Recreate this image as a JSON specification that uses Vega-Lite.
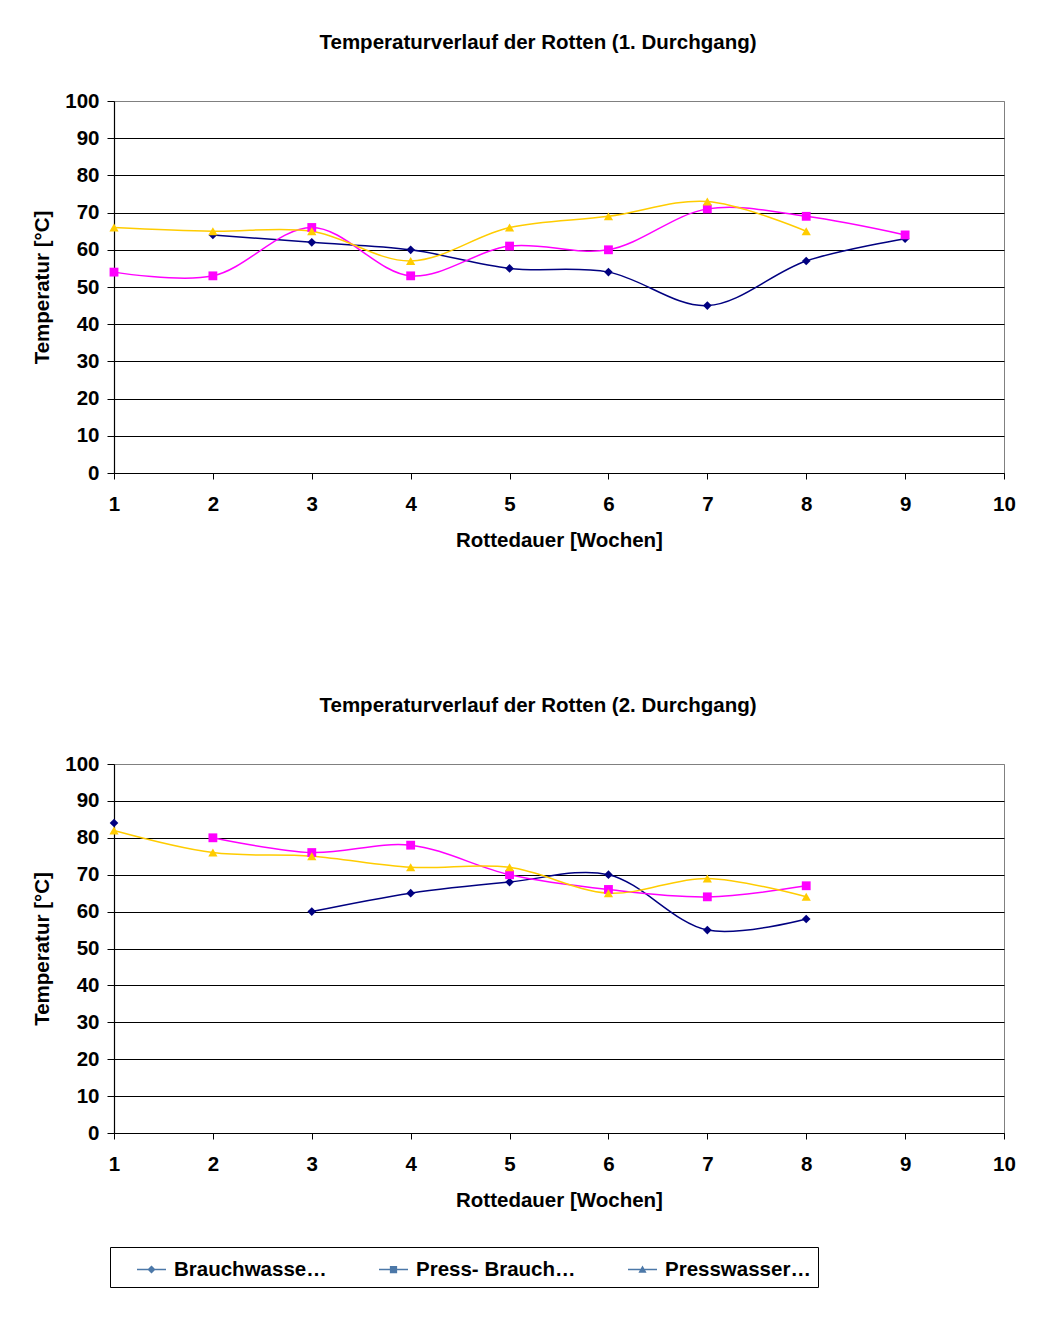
{
  "$schema": "https://vega.github.io/schema/vega-lite/v6.json",
  "background": "white",
  "padding": {"left": 32, "top": 32, "right": 40, "bottom": 40},
  "datasets": {
    "temps": [
      {"p": 1, "w": 2, "s": "Brauchwassermiete", "t": 64},
      {"p": 1, "w": 3, "s": "Brauchwassermiete", "t": 62},
      {"p": 1, "w": 4, "s": "Brauchwassermiete", "t": 60},
      {"p": 1, "w": 5, "s": "Brauchwassermiete", "t": 55},
      {"p": 1, "w": 6, "s": "Brauchwassermiete", "t": 54},
      {"p": 1, "w": 7, "s": "Brauchwassermiete", "t": 45},
      {"p": 1, "w": 8, "s": "Brauchwassermiete", "t": 57},
      {"p": 1, "w": 9, "s": "Brauchwassermiete", "t": 63},
      {"p": 1, "w": 1, "s": "Press- Brauchwassermiete", "t": 54},
      {"p": 1, "w": 2, "s": "Press- Brauchwassermiete", "t": 53},
      {"p": 1, "w": 3, "s": "Press- Brauchwassermiete", "t": 66},
      {"p": 1, "w": 4, "s": "Press- Brauchwassermiete", "t": 53},
      {"p": 1, "w": 5, "s": "Press- Brauchwassermiete", "t": 61},
      {"p": 1, "w": 6, "s": "Press- Brauchwassermiete", "t": 60},
      {"p": 1, "w": 7, "s": "Press- Brauchwassermiete", "t": 71},
      {"p": 1, "w": 8, "s": "Press- Brauchwassermiete", "t": 69},
      {"p": 1, "w": 9, "s": "Press- Brauchwassermiete", "t": 64},
      {"p": 1, "w": 1, "s": "Presswassermiete", "t": 66},
      {"p": 1, "w": 2, "s": "Presswassermiete", "t": 65},
      {"p": 1, "w": 3, "s": "Presswassermiete", "t": 65},
      {"p": 1, "w": 4, "s": "Presswassermiete", "t": 57},
      {"p": 1, "w": 5, "s": "Presswassermiete", "t": 66},
      {"p": 1, "w": 6, "s": "Presswassermiete", "t": 69},
      {"p": 1, "w": 7, "s": "Presswassermiete", "t": 73},
      {"p": 1, "w": 8, "s": "Presswassermiete", "t": 65},
      {"p": 2, "w": 1, "s": "Brauchwassermiete", "t": 84},
      {"p": 2, "w": 2, "s": "Brauchwassermiete", "t": null},
      {"p": 2, "w": 3, "s": "Brauchwassermiete", "t": 60},
      {"p": 2, "w": 4, "s": "Brauchwassermiete", "t": 65},
      {"p": 2, "w": 5, "s": "Brauchwassermiete", "t": 68},
      {"p": 2, "w": 6, "s": "Brauchwassermiete", "t": 70},
      {"p": 2, "w": 7, "s": "Brauchwassermiete", "t": 55},
      {"p": 2, "w": 8, "s": "Brauchwassermiete", "t": 58},
      {"p": 2, "w": 2, "s": "Press- Brauchwassermiete", "t": 80},
      {"p": 2, "w": 3, "s": "Press- Brauchwassermiete", "t": 76},
      {"p": 2, "w": 4, "s": "Press- Brauchwassermiete", "t": 78},
      {"p": 2, "w": 5, "s": "Press- Brauchwassermiete", "t": 70},
      {"p": 2, "w": 6, "s": "Press- Brauchwassermiete", "t": 66},
      {"p": 2, "w": 7, "s": "Press- Brauchwassermiete", "t": 64},
      {"p": 2, "w": 8, "s": "Press- Brauchwassermiete", "t": 67},
      {"p": 2, "w": 1, "s": "Presswassermiete", "t": 82},
      {"p": 2, "w": 2, "s": "Presswassermiete", "t": 76},
      {"p": 2, "w": 3, "s": "Presswassermiete", "t": 75},
      {"p": 2, "w": 4, "s": "Presswassermiete", "t": 72},
      {"p": 2, "w": 5, "s": "Presswassermiete", "t": 72},
      {"p": 2, "w": 6, "s": "Presswassermiete", "t": 65},
      {"p": 2, "w": 7, "s": "Presswassermiete", "t": 69},
      {"p": 2, "w": 8, "s": "Presswassermiete", "t": 64}
    ]
  },
  "config": {
    "font": "Liberation Sans",
    "view": {"stroke": "#808080", "strokeWidth": 1},
    "title": {"font": "Liberation Sans", "fontSize": 20.5, "fontWeight": "bold", "color": "black", "anchor": "middle", "frame": "group", "dx": -21, "offset": 38},
    "axis": {
      "labelFont": "Liberation Sans", "labelFontSize": 20.5, "labelFontWeight": "bold", "labelColor": "black",
      "titleFont": "Liberation Sans", "titleFontSize": 20.5, "titleFontWeight": "bold", "titleColor": "black",
      "domainColor": "black", "tickColor": "black", "domainWidth": 1.2, "tickWidth": 1
    }
  },
  "bounds": "flush",
  "spacing": 291,
  "vconcat": [
    {
      "title": "Temperaturverlauf der Rotten (1. Durchgang)",
      "width": 890,
      "height": 372,
      "data": {"name": "temps"},
      "transform": [{"filter": "datum.p == 1"}],
      "encoding": {
        "x": {"field": "w", "type": "quantitative", "scale": {"domain": [1, 10], "nice": false, "zero": false},
              "axis": {"title": "Rottedauer [Wochen]", "values": [1,2,3,4,5,6,7,8,9,10], "grid": false, "tickSize": 6, "labelPadding": 15, "titlePadding": 16, "labelFlush": false}},
        "y": {"field": "t", "type": "quantitative", "scale": {"domain": [0, 100], "nice": false},
              "axis": {"title": "Temperatur [°C]", "values": [0,10,20,30,40,50,60,70,80,90,100], "tickSize": 7, "labelPadding": 8, "titlePadding": 12,
                       "grid": true, "gridColor": {"condition": {"test": "datum.value === 100", "value": "#808080"}, "value": "#000000"}, "gridWidth": 1}}
      },
      "layer": [
        {"transform": [{"filter": "datum.s == 'Brauchwassermiete'"}], "mark": {"type": "line", "interpolate": "catmull-rom", "strokeWidth": 1.5, "color": "#000080"}},
        {"transform": [{"filter": "datum.s == 'Press- Brauchwassermiete'"}], "mark": {"type": "line", "interpolate": "catmull-rom", "strokeWidth": 1.5, "color": "#FF00FF"}},
        {"transform": [{"filter": "datum.s == 'Presswassermiete'"}], "mark": {"type": "line", "interpolate": "catmull-rom", "strokeWidth": 1.5, "color": "#FFCC00"}},
        {"transform": [{"filter": "datum.s == 'Brauchwassermiete'"}], "mark": {"type": "point", "shape": "diamond", "filled": true, "opacity": 1, "size": 75, "color": "#000080"}},
        {"transform": [{"filter": "datum.s == 'Press- Brauchwassermiete'"}], "mark": {"type": "point", "shape": "square", "filled": true, "opacity": 1, "size": 78, "color": "#FF00FF"}},
        {"transform": [{"filter": "datum.s == 'Presswassermiete'"}], "mark": {"type": "point", "shape": "triangle-up", "filled": true, "opacity": 1, "size": 85, "color": "#FFCC00"}},
        {
          "mark": {"type": "point", "filled": true, "opacity": 0},
          "encoding": {
            "shape": {"field": "s", "type": "nominal", "scale": {"domain": ["Brauchwassermiete", "Press- Brauchwassermiete", "Presswassermiete"],
                      "range": ["M-1,-0.05H1V0.05H-1Z M0,-0.28L0.28,0L0,0.28L-0.28,0Z", "M-1,-0.05H1V0.05H-1Z M-0.25,-0.25H0.25V0.25H-0.25Z", "M-1,-0.05H1V0.05H-1Z M0,-0.28L0.28,0.22L-0.28,0.22Z"]},
                      "legend": {"title": null, "orient": "none", "legendX": -4, "legendY": 1146, "direction": "horizontal",
                                 "symbolSize": 841, "symbolOffset": 19, "labelOffset": 7, "columnPadding": 32, "padding": 7,
                                 "strokeColor": "black", "labelFont": "Liberation Sans", "labelFontSize": 20.5, "labelFontWeight": "bold", "labelColor": "black",
                                 "encode": {"symbols": {"update": {
                                   "fill": {"signal": "datum.value === 'Brauchwassermiete' ? '#000080' : (datum.value === 'Presswassermiete' ? '#FFCC00' : '#FF00FF')"},
                                   "stroke": {"value": "transparent"},
                                   "opacity": {"value": 1}}}}}}
          }
        }
      ]
    },
    {
      "title": "Temperaturverlauf der Rotten (2. Durchgang)",
      "width": 890,
      "height": 369,
      "data": {"name": "temps"},
      "transform": [{"filter": "datum.p == 2"}],
      "encoding": {
        "x": {"field": "w", "type": "quantitative", "scale": {"domain": [1, 10], "nice": false, "zero": false},
              "axis": {"title": "Rottedauer [Wochen]", "values": [1,2,3,4,5,6,7,8,9,10], "grid": false, "tickSize": 6, "labelPadding": 15, "titlePadding": 16, "labelFlush": false}},
        "y": {"field": "t", "type": "quantitative", "scale": {"domain": [0, 100], "nice": false},
              "axis": {"title": "Temperatur [°C]", "values": [0,10,20,30,40,50,60,70,80,90,100], "tickSize": 7, "labelPadding": 8, "titlePadding": 12,
                       "grid": true, "gridColor": {"condition": {"test": "datum.value === 100", "value": "#808080"}, "value": "#000000"}, "gridWidth": 1}}
      },
      "layer": [
        {"transform": [{"filter": "datum.s == 'Brauchwassermiete'"}], "mark": {"type": "line", "interpolate": "catmull-rom", "strokeWidth": 1.5, "color": "#000080", "invalid": "break-paths-show-domains"}},
        {"transform": [{"filter": "datum.s == 'Press- Brauchwassermiete'"}], "mark": {"type": "line", "interpolate": "catmull-rom", "strokeWidth": 1.5, "color": "#FF00FF"}},
        {"transform": [{"filter": "datum.s == 'Presswassermiete'"}], "mark": {"type": "line", "interpolate": "catmull-rom", "strokeWidth": 1.5, "color": "#FFCC00"}},
        {"transform": [{"filter": "datum.s == 'Brauchwassermiete' && datum.t != null"}], "mark": {"type": "point", "shape": "diamond", "filled": true, "opacity": 1, "size": 75, "color": "#000080"}},
        {"transform": [{"filter": "datum.s == 'Press- Brauchwassermiete'"}], "mark": {"type": "point", "shape": "square", "filled": true, "opacity": 1, "size": 78, "color": "#FF00FF"}},
        {"transform": [{"filter": "datum.s == 'Presswassermiete'"}], "mark": {"type": "point", "shape": "triangle-up", "filled": true, "opacity": 1, "size": 85, "color": "#FFCC00"}}
      ]
    }
  ]
}
